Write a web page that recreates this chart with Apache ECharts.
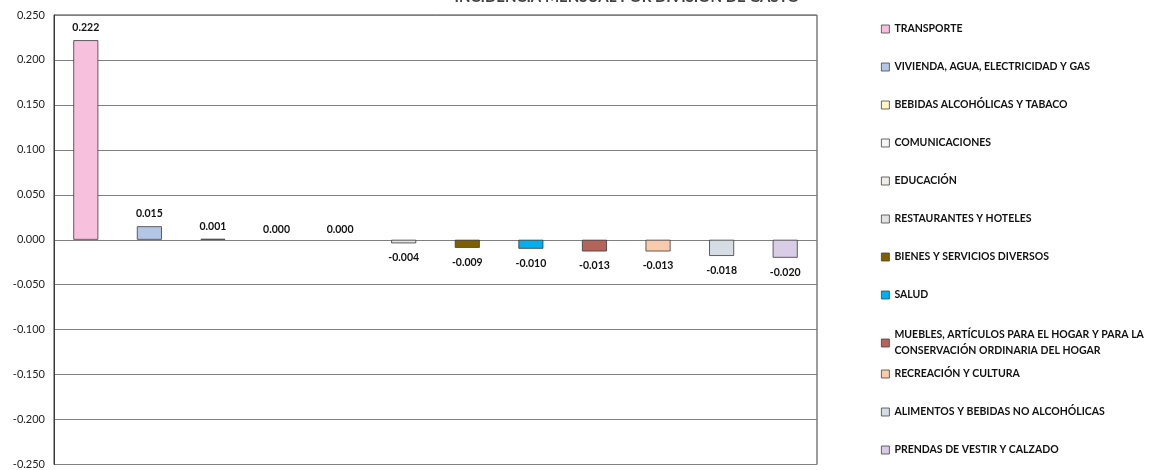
<!DOCTYPE html>
<html>
<head>
<meta charset="utf-8">
<script src="https://cdn.jsdelivr.net/npm/echarts@6/dist/echarts.min.js"></script>
<style>
html,body{margin:0;padding:0;background:#fff;}
#chart{width:1150px;height:470px;}
</style>
</head>
<body>
<div id="chart"></div>
<script>
const categories = [
  'TRANSPORTE',
  'VIVIENDA, AGUA, ELECTRICIDAD Y GAS',
  'BEBIDAS ALCOHÓLICAS Y TABACO',
  'COMUNICACIONES',
  'EDUCACIÓN',
  'RESTAURANTES Y HOTELES',
  'BIENES Y SERVICIOS DIVERSOS',
  'SALUD',
  'MUEBLES, ARTÍCULOS PARA EL HOGAR Y PARA LA CONSERVACIÓN ORDINARIA DEL HOGAR',
  'RECREACIÓN Y CULTURA',
  'ALIMENTOS Y BEBIDAS NO ALCOHÓLICAS',
  'PRENDAS DE VESTIR Y CALZADO'
];
const values = [0.222, 0.015, 0.001, 0.000, 0.000, -0.004, -0.009, -0.010, -0.013, -0.013, -0.018, -0.020];
const colors = ['#F7C0DC', '#B4C6E6', '#FFF7C8', '#F4F4F4', '#EFEFE6', '#E2E2E2', '#7F6000', '#00B0F0', '#B5645A', '#F8CBAD', '#D6DCE4', '#D8CCE6'];
const titleText = 'INCIDENCIA MENSUAL POR DIVISIÓN DE GASTO';
const yTicks = { min: -0.25, max: 0.25, interval: 0.05 };

const series = categories.map((name, i) => ({
  name: name,
  type: 'bar',
  barWidth: 25,
  barGap: '-100%',
  itemStyle: { color: colors[i], borderColor: '#3a3a3a', borderWidth: values[i] === 0 ? 0 : 0.8 },
  label: {
    show: true,
    position: values[i] < 0 ? 'bottom' : 'top',
    distance: values[i] < 0 ? 9 : (values[i] === 0 ? 5 : 7),
    formatter: p => p.value.toFixed(3),
    fontFamily: 'Lato',
    fontWeight: 'bold',
    fontSize: 10.5,
    color: '#111'
  },
  data: values.map((v, j) => (j === i ? v : '-'))
}));

const legendCommon = {
  orient: 'vertical',
  left: 881,
  padding: 0,
  itemWidth: 8,
  itemHeight: 8,
  itemGap: 22,
  icon: 'rect',
  itemStyle: { borderColor: '#444', borderWidth: 0.8 },
  textStyle: { fontFamily: 'Lato', fontWeight: 'bold', fontSize: 10.5, color: '#111', lineHeight: 16 }
};

const option = {
  animation: false,
  backgroundColor: '#fff',
  title: {
    text: titleText,
    left: 622,
    textAlign: 'center',
    top: -15,
    textStyle: { fontFamily: 'Lato', fontWeight: 'bold', fontSize: 15, color: '#404040' }
  },
  grid: { left: 54, right: 333, top: 15, bottom: 4, show: true, borderColor: '#3a3a3a', borderWidth: 1 },
  legend: [
    Object.assign({}, legendCommon, { top: 21, data: categories.slice(0, 8) }),
    Object.assign({}, legendCommon, {
      top: 327,
      data: categories.slice(8, 9),
      formatter: n => n.replace(' Y PARA LA ', ' Y PARA LA\n')
    }),
    Object.assign({}, legendCommon, { top: 366, data: categories.slice(9) })
  ],
  xAxis: {
    type: 'category',
    data: categories,
    axisLine: { show: false },
    axisTick: { show: false },
    axisLabel: { show: false }
  },
  yAxis: {
    type: 'value',
    min: yTicks.min,
    max: yTicks.max,
    interval: yTicks.interval,
    axisLine: { show: true, lineStyle: { color: '#3a3a3a' } },
    axisTick: { show: false },
    axisLabel: {
      formatter: v => v.toFixed(3),
      fontFamily: 'Lato',
      fontSize: 11,
      color: '#222',
      margin: 9
    },
    splitLine: { lineStyle: { color: '#808080', width: 1.2 } }
  },
  series: series
};

const chart = echarts.init(document.getElementById('chart'));
chart.setOption(option);
</script>
</body>
</html>
